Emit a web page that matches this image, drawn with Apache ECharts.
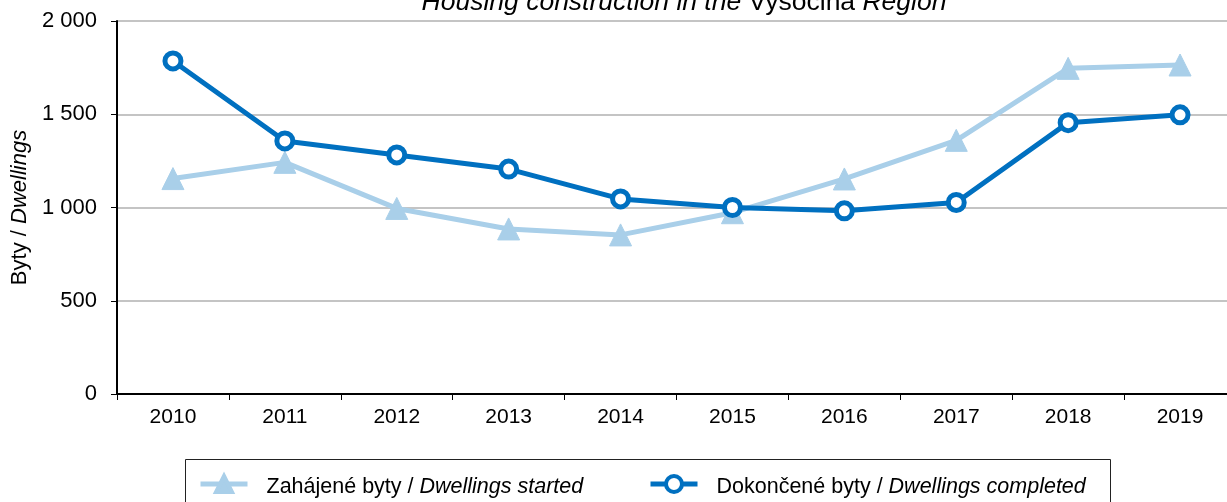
<!DOCTYPE html>
<html>
<head>
<meta charset="utf-8">
<script src="https://cdn.jsdelivr.net/npm/echarts@6/dist/echarts.min.js"></script>
<style>
  html, body { margin: 0; padding: 0; background: #fff; overflow: hidden; }
  /* the plot runs a few pixels past the right edge of the window */
  #chart { width: 1236px; height: 502px; }
</style>
</head>
<body>
<div id="chart"></div>
<script>
// Dwellings started and completed per year
const years = ['2010', '2011', '2012', '2013', '2014', '2015', '2016', '2017', '2018', '2019'];
const started = [1155, 1242, 995, 885, 853, 972, 1153, 1360, 1746, 1764];
const completed = [1786, 1357, 1282, 1206, 1046, 1000, 982, 1027, 1455, 1497];
const yTicks = { min: 0, max: 2000, interval: 500 };

const FONT = '"Liberation Sans", Arial, sans-serif';
const LIGHT = '#a9cfe9';
const DARK = '#0070c0';

function spaced(v) {
  return String(v).replace(/\B(?=(\d{3})+(?!\d))/g, ' ');
}

function richPair(size, padTop) {
  return {
    n: { fontFamily: FONT, fontSize: size, fontWeight: 'normal', color: '#000' },
    i: { fontFamily: FONT, fontSize: size, fontWeight: 'normal', fontStyle: 'italic', color: '#000', padding: [padTop || 0, 0, 0, 0] },
    p: { fontFamily: FONT, fontSize: size, fontWeight: 'normal', color: '#000', padding: [padTop || 0, 0, 0, 14] }
  };
}

function legendAt(x, name, label) {
  return {
    left: x,
    top: 474,
    padding: 0,
    itemWidth: 47,
    itemHeight: 20,
    data: [name],
    lineStyle: { width: 5 },
    itemStyle: { borderWidth: 4 },
    formatter: function () { return label; },
    textStyle: { rich: richPair(21.5, 6) }
  };
}

const chart = echarts.init(document.getElementById('chart'), null, { renderer: 'canvas' });
chart.setOption({
  animation: false,
  backgroundColor: '#fff',
  title: {
    text: '{i|Housing construction in the }{n|Vysočina }{i|Region}',
    left: 679,
    textAlign: 'center',
    top: -16,
    textStyle: { fontWeight: 'normal', rich: richPair(26.5) }
  },
  // frame around the legend
  graphic: [{
    type: 'rect',
    shape: { x: 185.5, y: 459.5, width: 925, height: 70 },
    style: { fill: 'none', stroke: '#222', lineWidth: 1 },
    silent: true
  }],
  grid: { left: 117, top: 21, right: 0, bottom: 108, containLabel: false },
  legend: [
    legendAt(198, 'started', '{p|Zahájené byty / }{i|Dwellings started}'),
    legendAt(648, 'completed', '{p|Dokončené byty / }{i|Dwellings completed}')
  ],
  xAxis: {
    type: 'category',
    data: years,
    boundaryGap: true,
    axisLine: { lineStyle: { color: '#000', width: 2 } },
    axisTick: { show: true, length: 6, lineStyle: { color: '#000', width: 1 } },
    axisLabel: { color: '#000', fontFamily: FONT, fontSize: 21, margin: 13 }
  },
  yAxis: {
    type: 'value',
    min: yTicks.min,
    max: yTicks.max,
    interval: yTicks.interval,
    name: '{n|Byty / }{i|Dwellings}',
    nameLocation: 'middle',
    nameGap: 85,
    nameTextStyle: { rich: richPair(22) },
    axisLine: { show: true, lineStyle: { color: '#000', width: 2 } },
    axisTick: { show: true, length: 6, inside: false, lineStyle: { color: '#000', width: 1 } },
    axisLabel: { color: '#000', fontFamily: FONT, fontSize: 22, margin: 20, formatter: spaced },
    splitLine: { show: true, lineStyle: { color: '#c4c4c4', width: 2 } }
  },
  series: [
    {
      name: 'started',
      type: 'line',
      data: started,
      symbol: 'triangle',
      symbolSize: 22,
      itemStyle: { color: LIGHT, borderColor: LIGHT, borderWidth: 1 },
      lineStyle: { color: LIGHT, width: 5 },
      z: 2
    },
    {
      name: 'completed',
      type: 'line',
      data: completed,
      symbol: 'circle',
      symbolSize: 16,
      showAllSymbol: true,
      itemStyle: { color: '#fff', borderColor: DARK, borderWidth: 5 },
      lineStyle: { color: DARK, width: 5 },
      z: 3
    }
  ]
});
</script>
</body>
</html>
